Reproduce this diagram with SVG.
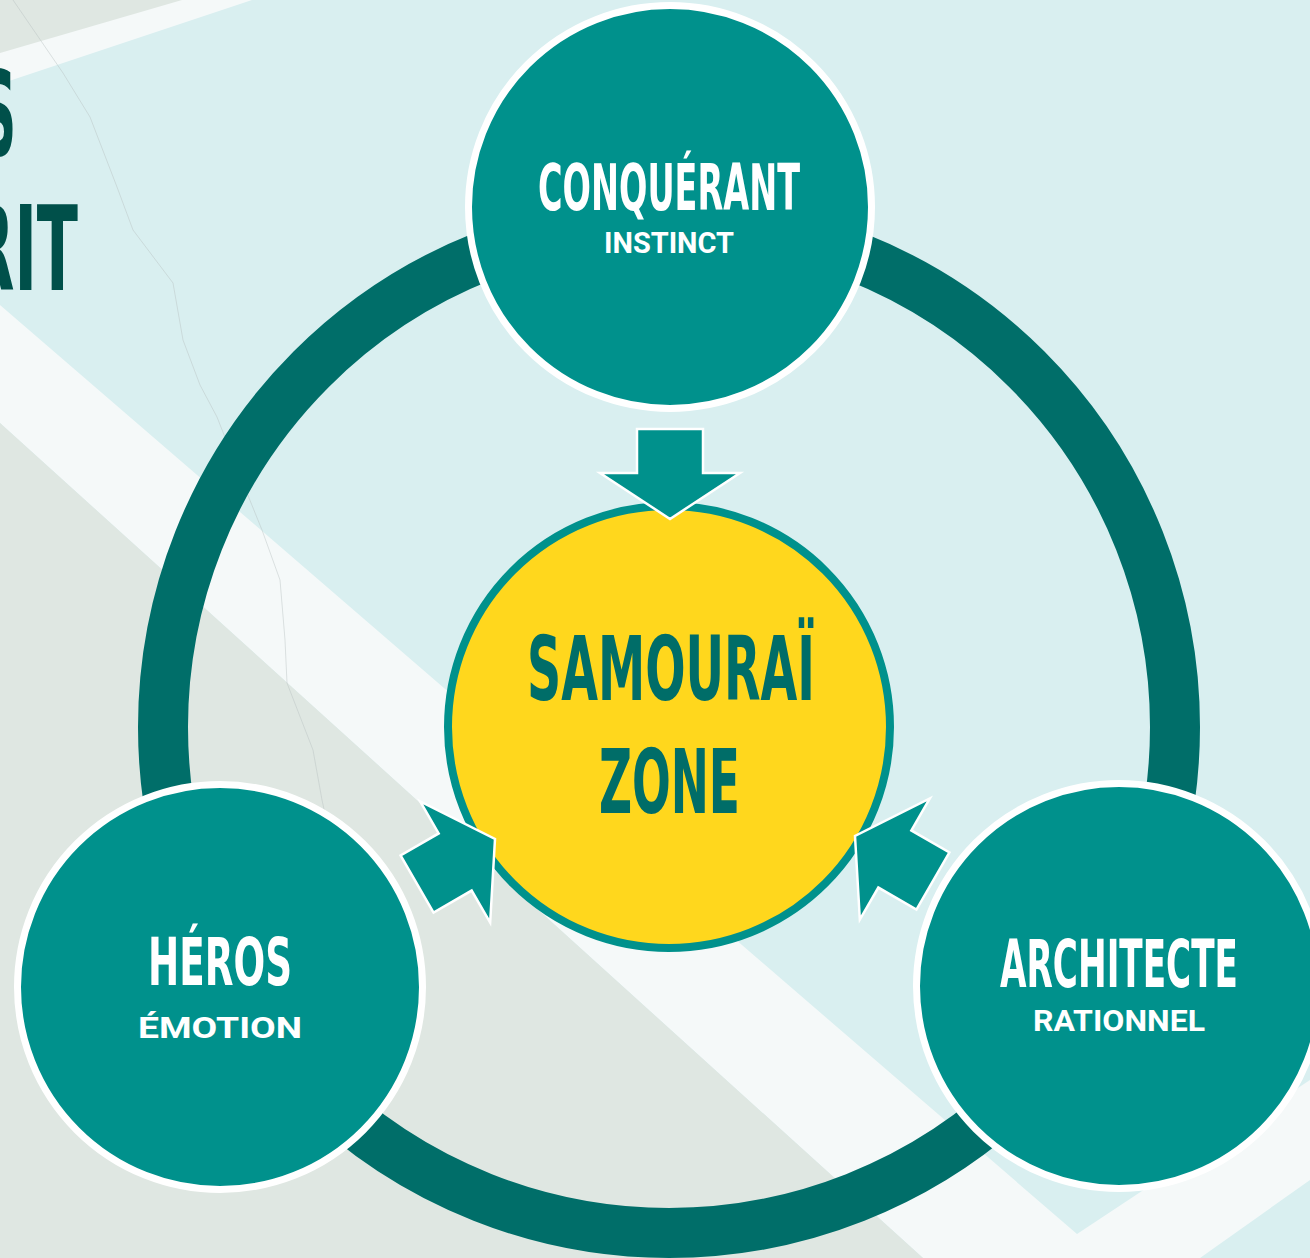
<svg xmlns="http://www.w3.org/2000/svg" width="1310" height="1258" viewBox="0 0 1310 1258">
  <defs>
    <style>
      .bg-cyan { fill: #d9eff0; }
      .bg-white { fill: #f5f9f9; }
      .bg-gray { fill: #dfe7e2; }
      .crack { fill: none; stroke: #b8c2c0; stroke-width: 1; opacity: 0.45; }
      .ring { fill: none; stroke: #006e69; stroke-width: 50; }
      .outer { fill: #00918c; stroke: #ffffff; stroke-width: 7; }
      .center { fill: #ffd71d; stroke: #00918c; stroke-width: 8; }
      .arrow { fill: #00918c; stroke: #ffffff; stroke-width: 2.5; stroke-linejoin: miter; }
      .cond { font-family: "Liberation Sans Narrow", "DejaVu Sans", "Liberation Sans", sans-serif; font-stretch: condensed; font-weight: 700; }
      .head { fill: #ffffff; }
      .sub { font-family: Roboto, "Liberation Sans", sans-serif; font-weight: 700; fill: #ffffff; font-size: 29px; }
      .core { fill: #006d68; font-size: 89px; }
      .part { fill: #00504a; font-size: 118px; }
    </style>
    <path id="arrowShape" class="arrow" d="M -33,-90 L 33,-90 L 33,-46 L 70,-46 L 0,0 L -70,-46 L -33,-46 Z"/>
  </defs>

  <g id="background">
    <rect class="bg-cyan" x="0" y="0" width="1310" height="1258"/>
    <polygon class="bg-white" points="0,0 252,0 0,84"/>
    <polygon class="bg-gray" points="0,0 182,0 0,53"/>
    <polygon class="bg-white" points="0,305 1077,1234 1310,1080 1310,1180 1200,1258 923,1258 0,423"/>
    <polygon class="bg-gray" points="0,423 923,1258 0,1258"/>
    <path class="crack" d="M13,0 L63,73 L90,117 L117,187 L133,230 L173,283 L183,340 L200,385 L217,417 L247,493 L262,530 L280,580 L285,640 L287,683 L313,750 L322,800 L335,860"/>
  </g>

  <g id="title-fragment">
    <text class="cond part" x="-18" y="155" textLength="34" lengthAdjust="spacingAndGlyphs">S</text>
    <text class="cond part" x="-32" y="290" textLength="110" lengthAdjust="spacingAndGlyphs">RIT</text>
  </g>

  <g id="cycle-ring">
    <circle class="ring" cx="669" cy="727" r="506"/>
  </g>

  <g id="node-samourai">
    <circle class="center" cx="669" cy="727" r="221"/>
    <text class="cond core" x="671" y="700" text-anchor="middle" textLength="288" lengthAdjust="spacingAndGlyphs">SAMOURAÏ</text>
    <text class="cond core" x="669.5" y="813" text-anchor="middle" textLength="141" lengthAdjust="spacingAndGlyphs">ZONE</text>
  </g>

  <g id="connectors">
    <use href="#arrowShape" transform="translate(670,519)"/>
    <use href="#arrowShape" transform="translate(495,839) rotate(-120)"/>
    <use href="#arrowShape" transform="translate(855,836) rotate(120)"/>
  </g>

  <g id="node-conquerant">
    <circle class="outer" cx="670" cy="207" r="201.5"/>
    <text class="cond head" x="669" y="210" font-size="64" text-anchor="middle" textLength="262" lengthAdjust="spacingAndGlyphs">CONQUÉRANT</text>
    <text class="sub" x="669" y="253" text-anchor="middle" textLength="130" lengthAdjust="spacingAndGlyphs">INSTINCT</text>
  </g>

  <g id="node-heros">
    <circle class="outer" cx="220" cy="987" r="202.5"/>
    <text class="cond head" x="220" y="985" font-size="66" text-anchor="middle" textLength="144" lengthAdjust="spacingAndGlyphs">HÉROS</text>
    <text class="sub" x="220" y="1038" text-anchor="middle" textLength="164" lengthAdjust="spacingAndGlyphs">ÉMOTION</text>
  </g>

  <g id="node-architecte">
    <circle class="outer" cx="1119" cy="986" r="202.5"/>
    <text class="cond head" x="1119" y="987" font-size="66" text-anchor="middle" textLength="238" lengthAdjust="spacingAndGlyphs">ARCHITECTE</text>
    <text class="sub" x="1119" y="1031" text-anchor="middle" textLength="172" lengthAdjust="spacingAndGlyphs">RATIONNEL</text>
  </g>
</svg>
